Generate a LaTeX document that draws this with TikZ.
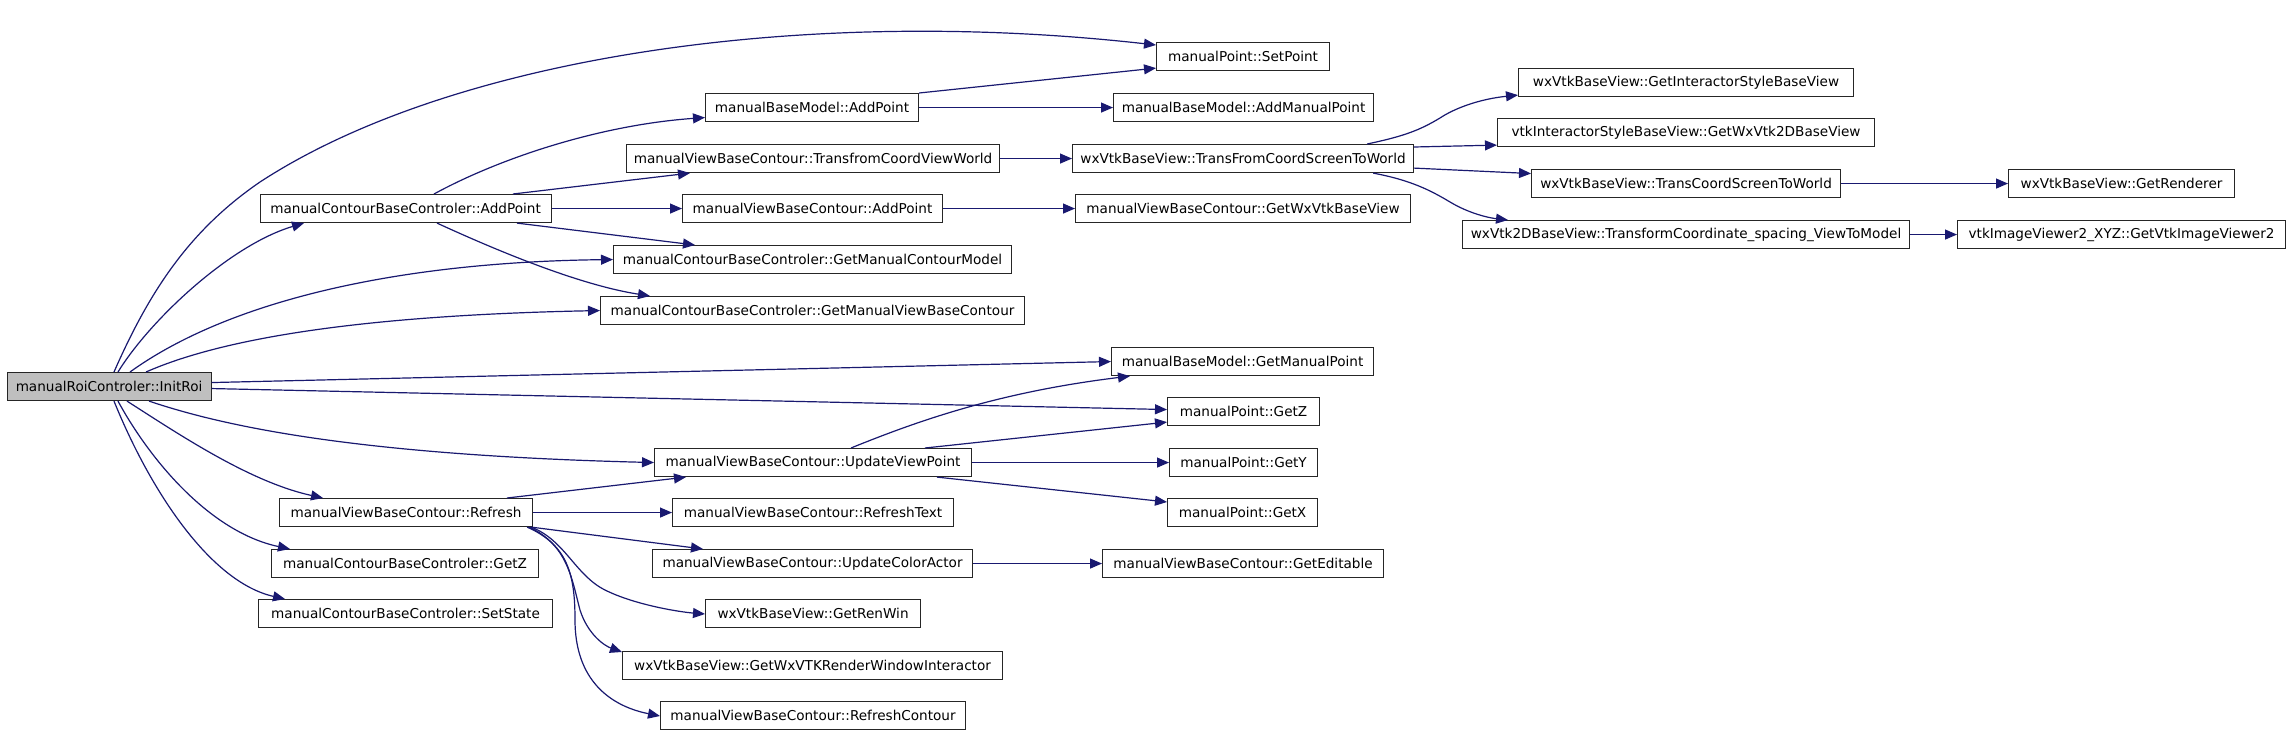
\documentclass[tikz,border=0pt]{standalone}
\usepackage{fontspec}
\setmainfont{DejaVu Sans}
\usetikzlibrary{arrows.meta}
\definecolor{edgeblue}{RGB}{25,25,112}
\definecolor{rootgray}{RGB}{191,191,191}
\tikzset{
  fn/.style={draw=black!85, line width=1.1pt, fill=white, anchor=north west, inner sep=0pt,
    font=\fontsize{13.6}{16}\selectfont, text=black},
  rootfn/.style={fn, fill=rootgray},
  call/.style={draw=edgeblue, line width=1.2pt, -{Triangle[length=12pt,width=10pt]}, edgeblue}
}
\begin{document}
\begin{tikzpicture}[x=1pt,y=-1pt]
\useasboundingbox[fill=white] (0,0) rectangle (2291,733);
% nodes: anchor north west at (x1,y1), size (x2-x1) x (y2-y1)
\node[rootfn, minimum width=204pt, minimum height=28pt] (root) at (6.5,372) {manualRoiControler::InitRoi};
\node[fn, minimum width=291pt, minimum height=28pt] (cAdd) at (259.5,194) {manualContourBaseControler::AddPoint};
\node[fn, minimum width=173pt, minimum height=28pt] (SetPoint) at (1156,42) {manualPoint::SetPoint};
\node[fn, minimum width=213pt, minimum height=28pt] (bmAdd) at (705,93) {manualBaseModel::AddPoint};
\node[fn, minimum width=260pt, minimum height=28pt] (bmAddManual) at (1113,93) {manualBaseModel::AddManualPoint};
\node[fn, minimum width=373pt, minimum height=28pt] (vTransf) at (626,144) {manualViewBaseContour::TransfromCoordViewWorld};
\node[fn, minimum width=341pt, minimum height=28pt] (wTransFrom) at (1072,144) {wxVtkBaseView::TransFromCoordScreenToWorld};
\node[fn, minimum width=260pt, minimum height=28pt] (vAdd) at (682,194) {manualViewBaseContour::AddPoint};
\node[fn, minimum width=335pt, minimum height=28pt] (vGetWx) at (1075,194) {manualViewBaseContour::GetWxVtkBaseView};
\node[fn, minimum width=398pt, minimum height=28pt] (cGetModel) at (613,245) {manualContourBaseControler::GetManualContourModel};
\node[fn, minimum width=424pt, minimum height=28pt] (cGetView) at (600,296) {manualContourBaseControler::GetManualViewBaseContour};
\node[fn, minimum width=262pt, minimum height=28pt] (bmGetMP) at (1111,347) {manualBaseModel::GetManualPoint};
\node[fn, minimum width=152pt, minimum height=28pt] (pGetZ) at (1167,397) {manualPoint::GetZ};
\node[fn, minimum width=317pt, minimum height=28pt] (vUpdVP) at (654,448) {manualViewBaseContour::UpdateViewPoint};
\node[fn, minimum width=148pt, minimum height=28pt] (pGetY) at (1169,448) {manualPoint::GetY};
\node[fn, minimum width=150pt, minimum height=28pt] (pGetX) at (1167,498) {manualPoint::GetX};
\node[fn, minimum width=281pt, minimum height=28pt] (vRefreshText) at (672,498) {manualViewBaseContour::RefreshText};
\node[fn, minimum width=253pt, minimum height=28pt] (vRefresh) at (279,498) {manualViewBaseContour::Refresh};
\node[fn, minimum width=320pt, minimum height=28pt] (vUpdColor) at (652,549) {manualViewBaseContour::UpdateColorActor};
\node[fn, minimum width=281pt, minimum height=28pt] (vGetEditable) at (1102,549) {manualViewBaseContour::GetEditable};
\node[fn, minimum width=267pt, minimum height=28pt] (cGetZ) at (271,549) {manualContourBaseControler::GetZ};
\node[fn, minimum width=294pt, minimum height=28pt] (cSetState) at (258,599) {manualContourBaseControler::SetState};
\node[fn, minimum width=215pt, minimum height=28pt] (wGetRenWin) at (705,599) {wxVtkBaseView::GetRenWin};
\node[fn, minimum width=380pt, minimum height=28pt] (wGetWxVTK) at (622,651) {wxVtkBaseView::GetWxVTKRenderWindowInteractor};
\node[fn, minimum width=305pt, minimum height=28pt] (vRefreshContour) at (660,701) {manualViewBaseContour::RefreshContour};
\node[fn, minimum width=335pt, minimum height=28pt] (wGetISBV) at (1518,68) {wxVtkBaseView::GetInteractorStyleBaseView};
\node[fn, minimum width=377pt, minimum height=28pt] (iGetWx2D) at (1497,118) {vtkInteractorStyleBaseView::GetWxVtk2DBaseView};
\node[fn, minimum width=309pt, minimum height=28pt] (wTransCoord) at (1531,169) {wxVtkBaseView::TransCoordScreenToWorld};
\node[fn, minimum width=447pt, minimum height=28pt] (w2DTransform) at (1462,220) {wxVtk2DBaseView::TransformCoordinate\_spacing\_ViewToModel};
\node[fn, minimum width=226pt, minimum height=28pt] (wGetRenderer) at (2008,169) {wxVtkBaseView::GetRenderer};
\node[fn, minimum width=328pt, minimum height=28pt] (vtkGetViewer) at (1957,220) {vtkImageViewer2\_XYZ::GetVtkImageViewer2};

% edges from InitRoi
\draw[call] ([xshift=107.5pt]root.north west) .. controls (150,290) and (190,230) .. (260,182)
  .. controls (450,58) and (800,5) .. ([yshift=-3pt]SetPoint.north west);
\draw[call] ([xshift=111.5pt]root.north west) .. controls (150,320) and (230,245) .. ([xshift=44.5pt]cAdd.south west);
\draw[call] ([xshift=123.5pt]root.north west) .. controls (230,300) and (400,262) .. (cGetModel.west);
\draw[call] ([xshift=139.5pt]root.north west) .. controls (230,335) and (380,315) .. (cGetView.west);
\draw[call] ([yshift=4pt]root.east) -- (bmGetMP.west);
\draw[call] ([yshift=-2pt]root.east) -- ([yshift=2pt]pGetZ.west);
\draw[call] ([xshift=142.5pt]root.south west) .. controls (220,425) and (350,455) .. (vUpdVP.west);
\draw[call] ([xshift=120.5pt]root.south west) .. controls (180,435) and (250,482) .. ([xshift=44pt]vRefresh.north west);
\draw[call] ([xshift=111.5pt]root.south west) .. controls (150,460) and (210,532) .. ([xshift=19pt]cGetZ.north west);
\draw[call] ([xshift=107.5pt]root.south west) .. controls (150,490) and (210,582) .. ([xshift=27pt]cSetState.north west);

% edges from manualContourBaseControler::AddPoint
\draw[call] ([xshift=174.5pt]cAdd.north west) .. controls (500,158) and (600,125) .. ([yshift=-10pt]bmAdd.west);
\draw[call] ([xshift=253.5pt]cAdd.north west) -- ([xshift=64pt]vTransf.south west);
\draw[call] (cAdd.east) -- (vAdd.west);
\draw[call] ([xshift=257.5pt]cAdd.south west) -- ([xshift=82pt]cGetModel.north west);
\draw[call] ([xshift=177.5pt]cAdd.south west) .. controls (500,252) and (580,285) .. ([xshift=50pt]cGetView.north west);

% second level
\draw[call] (bmAdd.north east) -- ([yshift=3pt]SetPoint.south west);
\draw[call] (bmAdd.east) -- (bmAddManual.west);
\draw[call] (vTransf.east) -- (wTransFrom.west);
\draw[call] (vAdd.east) -- (vGetWx.west);

% from wxVtkBaseView::TransFromCoordScreenToWorld
\draw[call] ([xshift=-47pt]wTransFrom.north east) .. controls (1405,136) and (1420,130) .. (1440,118)
  .. controls (1455,108) and (1480,99) .. ([yshift=2pt]wGetISBV.south west);
\draw[call] ([yshift=-3pt]wTransFrom.north east) -- ([yshift=2pt]iGetWx2D.south west);
\draw[call] ([yshift=5pt]wTransFrom.south east) -- ([yshift=10pt]wTransCoord.west);
\draw[call] ([xshift=-41pt]wTransFrom.south east) .. controls (1410,180) and (1430,190) .. (1450,202)
  .. controls (1470,214) and (1490,218) .. ([xshift=46pt]w2DTransform.north west);
\draw[call] (wTransCoord.east) -- (wGetRenderer.west);
\draw[call] (w2DTransform.east) -- (vtkGetViewer.west);

% from UpdateViewPoint
\draw[call] ([xshift=197pt]vUpdVP.north west) .. controls (920,420) and (1000,392) .. ([xshift=19pt]bmGetMP.south west);
\draw[call] ([xshift=271pt]vUpdVP.north west) -- ([yshift=4pt]pGetZ.south west);
\draw[call] (vUpdVP.east) -- (pGetY.west);
\draw[call] ([xshift=283pt]vUpdVP.south west) -- ([yshift=-4pt]pGetX.north west);

% from Refresh
\draw[call] ([xshift=228pt]vRefresh.north west) -- ([xshift=32pt]vUpdVP.south west);
\draw[call] (vRefresh.east) -- (vRefreshText.west);
\draw[call] ([xshift=-2pt]vRefresh.south east) -- ([xshift=51pt]vUpdColor.north west);
\draw[call] ([xshift=-2pt]vRefresh.south east) .. controls (565,540) and (575,575) .. (605,590)
  .. controls (635,605) and (680,612) .. ([yshift=-15pt]wGetRenWin.north west);
\draw[call] ([xshift=-4pt]vRefresh.south east) .. controls (568,545) and (572,580) .. (580,610)
  .. controls (588,635) and (605,646) .. ([yshift=-1pt]wGetWxVTK.north west);
\draw[call] ([xshift=-6pt]vRefresh.south east) .. controls (568,545) and (575,575) .. (575,620)
  .. controls (575,680) and (610,706) .. ([yshift=-15pt]vRefreshContour.north west);
\draw[call] (vUpdColor.east) -- (vGetEditable.west);
\end{tikzpicture}
\end{document}
